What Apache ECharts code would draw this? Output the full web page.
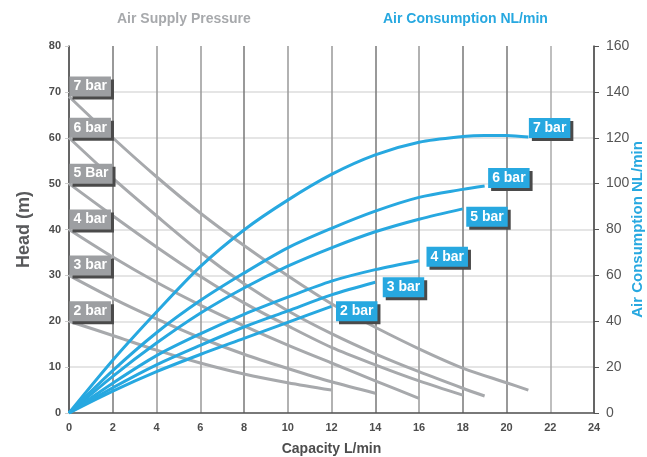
<!DOCTYPE html>
<html>
<head>
<meta charset="utf-8">
<style>
  html, body { margin: 0; padding: 0; background: #fff; }
  #chart { width: 647px; height: 457px; }
</style>
</head>
<body>
<div id="chart"></div>
<script src="https://cdn.jsdelivr.net/npm/echarts@6/dist/echarts.min.js"></script>
<script>
  // head curves (m) per supply pressure, [capacity L/min, head]
  const headLabels = ['2 bar', '3 bar', '4 bar', '5 Bar', '6 bar', '7 bar'];
  const head2 = [[0, 20], [2, 16.9], [4, 13.7], [6, 10.9], [8, 8.5], [10, 6.6], [12, 5]];
  const head3 = [[0, 30], [2, 25], [4, 20.5], [6, 16.4], [8, 12.8], [10, 9.7], [12, 6.8], [14, 4.3]];
  const head4 = [[0, 40], [2, 34], [4, 28.5], [6, 23.5], [8, 19], [10, 14.8], [12, 10.9], [14, 7], [16, 3.2]];
  const head5 = [[0, 50], [2, 43], [4, 36.2], [6, 29.8], [8, 24], [10, 19], [12, 14.3], [14, 10.5], [16, 7], [18, 3.9]];
  const head6 = [[0, 60], [2, 51.2], [4, 43], [6, 35.1], [8, 28.2], [10, 22.3], [12, 17.3], [14, 12.9], [16, 9], [18, 5.4], [19, 3.7]];
  const head7 = [[0, 69], [2, 60], [4, 51.5], [6, 43.6], [8, 36.5], [10, 29.9], [12, 23.8], [14, 18.7], [16, 14], [18, 9.8], [20, 6.6], [21, 5]];

  // air consumption curves (NL/min) per supply pressure
  const airLabels = ['2 bar', '3 bar', '4 bar', '5 bar', '6 bar', '7 bar'];
  const air2 = [[0, 0], [2, 9.5], [4, 18], [6, 25.5], [8, 32.5], [10, 39.5], [12, 46.5]];
  const air3 = [[0, 0], [2, 11], [4, 21], [6, 29.5], [8, 37.5], [10, 44.5], [12, 51.5], [14, 57]];
  const air4 = [[0, 0], [2, 13], [4, 25], [6, 34.5], [8, 43], [10, 50.5], [12, 57.5], [14, 62.5], [16, 66.4]];
  const air5 = [[0, 0], [2, 16], [4, 30.5], [6, 43.5], [8, 54.5], [10, 64], [12, 72], [14, 79], [16, 84.5], [18, 89]];
  const air6 = [[0, 0], [2, 18.5], [4, 35], [6, 49], [8, 61], [10, 72], [12, 80.5], [14, 88], [16, 94], [18, 97.5], [19, 99]];
  const air7 = [[0, 0], [2, 23], [4, 44], [6, 63.8], [8, 79.8], [10, 92.8], [12, 104], [14, 112.5], [16, 118], [18, 120.5], [19, 121], [20, 121], [21, 120.3]];

  const headCurves = [head2, head3, head4, head5, head6, head7];
  const airCurves = [air2, air3, air4, air5, air6, air7];

  const GREY = '#a7a9ac';
  const BLUE = '#27a8e0';
  const FONT = '"Liberation Sans", Arial, sans-serif';

  // label box nudges for the blue end labels
  const airLabelOffset = [[4, 5], [7, 5], [7, -4], [3, 8], [3, -8], [0, -9]];

  const chart = echarts.init(document.getElementById('chart'));

  const boxLabel = (bg) => ({
    show: true,
    position: 'right',
    distance: 0,
    formatter: '{b}',
    color: '#fff',
    fontFamily: FONT,
    fontWeight: 'bold',
    fontSize: 14,
    lineHeight: 16,
    backgroundColor: bg,
    padding: [2, 4, 2, 4],
    shadowColor: '#4a4a4a',
    shadowOffsetX: 3,
    shadowOffsetY: 3,
    shadowBlur: 0,
    textShadowColor: 'transparent',
    textShadowBlur: 0,
    opacity: 1
  });

  const series = [];
  headCurves.forEach((d) => {
    series.push({
      type: 'line',
      data: d,
      smooth: 0.3,
      showSymbol: false,
      lineStyle: { color: GREY, width: 3 },
      z: 2
    });
  });
  airCurves.forEach((d) => {
    series.push({
      type: 'line',
      yAxisIndex: 1,
      data: d,
      smooth: 0.3,
      showSymbol: false,
      lineStyle: { color: BLUE, width: 3 },
      z: 3
    });
  });

  // grey labels at the start of each head curve
  series.push({
    type: 'scatter',
    symbolSize: 1,
    itemStyle: { color: 'transparent', opacity: 1 },
    data: headCurves.map((d, i) => ({
      name: headLabels[i],
      value: d[0],
      label: Object.assign(boxLabel('#9d9fa2'), { offset: [0, -10] })
    })),
    z: 5
  });

  // blue labels at the end of each consumption curve
  series.push({
    type: 'scatter',
    yAxisIndex: 1,
    symbolSize: 1,
    itemStyle: { color: 'transparent', opacity: 1 },
    data: airCurves.map((d, i) => ({
      name: airLabels[i],
      value: d[d.length - 1],
      label: Object.assign(boxLabel(BLUE), { offset: airLabelOffset[i] })
    })),
    z: 6
  });

  chart.setOption({
    animation: false,
    backgroundColor: '#fff',
    textStyle: { fontFamily: FONT },
    graphic: [
      {
        type: 'text', left: 117, top: 12,
        style: { text: 'Air Supply Pressure', fill: GREY, font: 'bold 14px ' + FONT }
      },
      {
        type: 'text', left: 383, top: 12,
        style: { text: 'Air Consumption NL/min', fill: BLUE, font: 'bold 14px ' + FONT }
      }
    ],
    grid: { left: 69, right: 53, top: 46, bottom: 44, outerBoundsMode: 'none', containLabel: false },
    xAxis: {
      type: 'value',
      min: 0, max: 24, interval: 2,
      name: 'Capacity L/min',
      nameLocation: 'middle',
      nameGap: 29,
      nameTextStyle: { color: '#4d4d4d', fontWeight: 'bold', fontSize: 14 },
      axisLine: { lineStyle: { color: '#555', width: 1.5 } },
      axisTick: { show: false },
      axisLabel: { color: '#4d4d4d', fontWeight: 'bold', fontSize: 11, margin: 9 },
      splitLine: {
        show: true,
        lineStyle: {
          width: 1.5,
          color: ['#777', '#777', '#999', '#999', '#777', '#999', '#999', '#777', '#999', '#777', '#777', '#aaa', '#777']
        }
      }
    },
    yAxis: [
      {
        type: 'value',
        min: 0, max: 80, interval: 10,
        name: 'Head (m)',
        nameLocation: 'middle',
        nameGap: 36,
        nameTextStyle: { color: '#58595b', fontWeight: 'bold', fontSize: 18 },
        axisLine: { show: true, lineStyle: { color: '#555', width: 1.5 } },
        axisTick: { show: true, length: 4, lineStyle: { color: '#ccc' } },
        axisLabel: { color: '#4d4d4d', fontWeight: 'bold', fontSize: 11, margin: 8 },
        splitLine: { show: true, showMaxLine: false, lineStyle: { color: '#ddd', width: 1.5 } }
      },
      {
        type: 'value',
        min: 0, max: 160, interval: 20,
        position: 'right',
        name: 'Air Consumption NL/min',
        nameLocation: 'middle',
        nameGap: 36,
        nameMoveOverlap: false,
        nameTextStyle: { color: BLUE, fontWeight: 'bold', fontSize: 15 },
        axisLine: { show: true, lineStyle: { color: '#555', width: 1.5 } },
        axisTick: { show: true, length: 5, lineStyle: { color: '#555' } },
        axisLabel: { color: '#555', fontSize: 14, margin: 12 },
        splitLine: { show: false }
      }
    ],
    series
  });
</script>
</body>
</html>
